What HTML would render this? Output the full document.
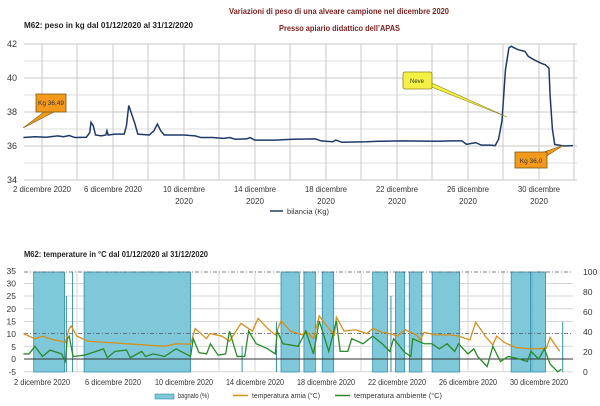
<!DOCTYPE html>
<html><head><meta charset="utf-8"><style>
body{margin:0;background:#fff;}
svg{display:block;font-family:"Liberation Sans",sans-serif;}
</style></head><body>
<svg width="600" height="406" viewBox="0 0 600 406" xmlns="http://www.w3.org/2000/svg">
<rect width="600" height="406" fill="#fff"/>
<text x="229" y="14" textLength="220" lengthAdjust="spacingAndGlyphs" font-size="8" font-weight="bold" fill="#7a1f1f">Variazioni di peso di una alveare campione nel dicembre 2020</text>
<text x="279" y="31" textLength="121" lengthAdjust="spacingAndGlyphs" font-size="8" font-weight="bold" fill="#7a1f1f">Presso apiario didattico dell’APAS</text>
<text x="24" y="28" textLength="169" lengthAdjust="spacingAndGlyphs" font-size="8" font-weight="bold" fill="#222">M62: peso in kg dal 01/12/2020 al 31/12/2020</text>
<g stroke="#dcdcdc" stroke-width="1">
<line x1="24" x2="577" y1="61" y2="61"/><line x1="24" x2="577" y1="95" y2="95"/><line x1="24" x2="577" y1="129" y2="129"/><line x1="24" x2="577" y1="163" y2="163"/>
</g>
<g stroke="#c8c8c8" stroke-width="1">
<line x1="24" x2="577" y1="44" y2="44"/><line x1="24" x2="577" y1="78" y2="78"/><line x1="24" x2="577" y1="112" y2="112"/><line x1="24" x2="577" y1="146" y2="146"/><line x1="24" x2="577" y1="180" y2="180"/>
<line x1="42" x2="42" y1="44" y2="180"/><line x1="77" x2="77" y1="44" y2="180"/><line x1="113" x2="113" y1="44" y2="180"/><line x1="148" x2="148" y1="44" y2="180"/><line x1="184" x2="184" y1="44" y2="180"/><line x1="219" x2="219" y1="44" y2="180"/><line x1="255" x2="255" y1="44" y2="180"/><line x1="290" x2="290" y1="44" y2="180"/><line x1="326" x2="326" y1="44" y2="180"/><line x1="361" x2="361" y1="44" y2="180"/><line x1="397" x2="397" y1="44" y2="180"/><line x1="432" x2="432" y1="44" y2="180"/><line x1="468" x2="468" y1="44" y2="180"/><line x1="503" x2="503" y1="44" y2="180"/><line x1="539" x2="539" y1="44" y2="180"/><line x1="574" x2="574" y1="44" y2="180"/>
</g>
<g font-size="9" fill="#333" text-anchor="end">
<text x="17" y="47">42</text><text x="17" y="81">40</text><text x="17" y="115">38</text><text x="17" y="149">36</text><text x="17" y="183">34</text>
</g>
<g font-size="8" fill="#333" text-anchor="middle">
<text x="42" y="192" textLength="58" lengthAdjust="spacingAndGlyphs">2 dicembre 2020</text><text x="113" y="192" textLength="58" lengthAdjust="spacingAndGlyphs">6 dicembre 2020</text>
<text x="184" y="192" textLength="42" lengthAdjust="spacingAndGlyphs">10 dicembre</text><text x="184" y="204">2020</text>
<text x="255" y="192" textLength="42" lengthAdjust="spacingAndGlyphs">14 dicembre</text><text x="255" y="204">2020</text>
<text x="326" y="192" textLength="42" lengthAdjust="spacingAndGlyphs">18 dicembre</text><text x="326" y="204">2020</text>
<text x="397" y="192" textLength="42" lengthAdjust="spacingAndGlyphs">22 dicembre</text><text x="397" y="204">2020</text>
<text x="468" y="192" textLength="42" lengthAdjust="spacingAndGlyphs">26 dicembre</text><text x="468" y="204">2020</text>
<text x="539" y="192" textLength="42" lengthAdjust="spacingAndGlyphs">30 dicembre</text><text x="539" y="204">2020</text>
</g>
<g transform="translate(0.5,146) scale(1.145,-16.9)">
<polyline vector-effect="non-scaling-stroke" fill="none" stroke="#1f3a68" stroke-width="1.5" points="20,0.5 30,0.55 40,0.52 50,0.6 55,0.55 60,0.62 65,0.5 75,0.52 78,0.8 79,1.4 81,1.2 83,0.65 88,0.6 92,0.65 93,0.9 94,0.65 100,0.7 108,0.7 110,1.2 112,2.4 114,2.0 117,1.4 120,0.7 130,0.65 134,0.9 137,1.3 140,0.9 143,0.65 160,0.65 170,0.6 175,0.5 185,0.5 195,0.45 200,0.5 205,0.4 215,0.42 218,0.5 222,0.35 240,0.35 255,0.4 275,0.42 280,0.3 290,0.25 293,0.35 298,0.22 320,0.25 330,0.28 350,0.3 380,0.28 395,0.3 403,0.3 407,0.1 415,0.2 420,0.05 428,0.05 432,0.02 435,0.4 438,1.5 441,4.5 444,5.8 446,5.9 452,5.7 458,5.6 461,5.3 466,5.1 472,4.9 476,4.8 479,4.6 480,3 482,1 484,0.1 492,0 500,0.02"/>
</g>
<polygon points="23,128 44,112 54,112" fill="#f39a1d" stroke="#7a5a10" stroke-width="0.6"/>
<rect x="36" y="94" width="30" height="18" fill="#f39a1d" stroke="#7a5a10" stroke-width="0.8"/>
<text x="51" y="105" text-anchor="middle" font-size="6.5" fill="#333">Kg 36,49</text>
<polygon points="507,117 425,80 429,86" fill="#f5f046" stroke="#8a8520" stroke-width="0.6"/>
<rect x="403" y="72" width="29" height="17" rx="2" fill="#f5f046" stroke="#8a8520" stroke-width="0.8"/>
<text x="417" y="83" text-anchor="middle" font-size="6" fill="#333">Neve</text>
<polygon points="564,145 538,154 542,159" fill="#f39a1d" stroke="#7a5a10" stroke-width="0.6"/>
<rect x="515" y="152" width="32" height="16" fill="#f39a1d" stroke="#7a5a10" stroke-width="0.8"/>
<text x="531" y="163" text-anchor="middle" font-size="6.5" fill="#333">Kg 36,0</text>
<line x1="270" x2="283" y1="211" y2="211" stroke="#1f3a68" stroke-width="1.5"/>
<text x="287" y="214" textLength="42" lengthAdjust="spacingAndGlyphs" font-size="7" fill="#333">bilancia (Kg)</text>

<text x="24" y="257" textLength="184" lengthAdjust="spacingAndGlyphs" font-size="8" font-weight="bold" fill="#222">M62: temperature in °C dal 01/12/2020 al 31/12/2020</text>
<g stroke="#d6d6d6" stroke-width="1">
<line x1="24" x2="573" y1="283.5" y2="283.5"/><line x1="24" x2="573" y1="296" y2="296"/><line x1="24" x2="573" y1="308.8" y2="308.8"/><line x1="24" x2="573" y1="321.5" y2="321.5"/><line x1="24" x2="573" y1="346.3" y2="346.3"/><line x1="24" x2="573" y1="371.7" y2="371.7"/>
<line x1="42" x2="42" y1="271" y2="372"/><line x1="77" x2="77" y1="271" y2="372"/><line x1="113" x2="113" y1="271" y2="372"/><line x1="148" x2="148" y1="271" y2="372"/><line x1="184" x2="184" y1="271" y2="372"/><line x1="219" x2="219" y1="271" y2="372"/><line x1="255" x2="255" y1="271" y2="372"/><line x1="290" x2="290" y1="271" y2="372"/><line x1="326" x2="326" y1="271" y2="372"/><line x1="361" x2="361" y1="271" y2="372"/><line x1="397" x2="397" y1="271" y2="372"/><line x1="432" x2="432" y1="271" y2="372"/><line x1="468" x2="468" y1="271" y2="372"/><line x1="503" x2="503" y1="271" y2="372"/><line x1="539" x2="539" y1="271" y2="372"/>
</g>
<g transform="translate(0.5,0) scale(1.145,1)">
<g fill="#7ec8d9" stroke="#2f8ea8" stroke-width="0.8">
<rect vector-effect="non-scaling-stroke" x="29" y="272" width="27" height="100"/><rect vector-effect="non-scaling-stroke" x="73" y="272" width="93" height="100"/>
<rect vector-effect="non-scaling-stroke" x="245" y="272" width="16" height="100"/><rect vector-effect="non-scaling-stroke" x="265" y="272" width="10" height="100"/><rect vector-effect="non-scaling-stroke" x="281" y="272" width="10" height="100"/>
<rect vector-effect="non-scaling-stroke" x="325" y="272" width="13" height="100"/><rect vector-effect="non-scaling-stroke" x="345" y="272" width="8" height="100"/><rect vector-effect="non-scaling-stroke" x="357" y="272" width="11" height="100"/><rect vector-effect="non-scaling-stroke" x="377" y="272" width="24" height="100"/>
<rect vector-effect="non-scaling-stroke" x="446" y="272" width="17" height="100"/><rect vector-effect="non-scaling-stroke" x="464" y="272" width="12" height="100"/>
</g>
<g stroke="#2f8ea8" stroke-width="1">
<line vector-effect="non-scaling-stroke" x1="57.5" x2="57.5" y1="296" y2="372"/><line vector-effect="non-scaling-stroke" x1="63" x2="63" y1="272" y2="372"/><line vector-effect="non-scaling-stroke" x1="241" x2="241" y1="322" y2="372"/><line vector-effect="non-scaling-stroke" x1="211" x2="211" y1="346" y2="372"/><line vector-effect="non-scaling-stroke" x1="341" x2="341" y1="296" y2="372"/><line vector-effect="non-scaling-stroke" x1="491" x2="491" y1="322" y2="372"/>
</g>
</g>
<line x1="24" x2="573" y1="272" y2="272" stroke="#556" stroke-width="0.8" stroke-dasharray="4,2,1,2"/>
<line x1="24" x2="573" y1="333.6" y2="333.6" stroke="#556" stroke-width="0.8" stroke-dasharray="4,2,1,2"/>
<line x1="24" x2="573" y1="359" y2="359" stroke="#333" stroke-width="1"/>
<g transform="translate(0.5,359) scale(0.38167,-2.54)" fill="none">
<polyline vector-effect="non-scaling-stroke" stroke="#d4901a" stroke-width="1.3" points="60,10 90,8 110,9 140,7.5 160,7 170,6.5 180,12 185,13 200,9 230,7 280,6.5 330,6 380,5.5 430,5 460,6 498,5.8 510,12 540,8 548,10 580,9 600,7 630,14 660,11 675,16 700,12 720,9.5 735,15 760,11 790,9.5 800,11 820,8 835,17 860,12 875,9.5 880,16.5 900,11 930,11.5 960,10 975,12 1000,10.5 1020,10 1040,9 1060,11.5 1090,9.5 1100,7.5 1110,10.5 1140,9.5 1180,9.5 1200,9 1230,7.5 1245,14.5 1270,9 1290,5.5 1300,9 1320,6.5 1350,4.5 1390,4 1430,4.2 1440,8.5 1465,3"/>
<polyline vector-effect="non-scaling-stroke" stroke="#2a8a2a" stroke-width="1.3" points="60,2 75,2 90,5 110,1 130,3.5 160,2 170,-1 175,8 180,9 190,1 220,1.5 270,4 280,0.5 300,3 330,3.5 340,0.5 370,3 380,1 400,2 430,1 460,4 498,1 505,8 520,2.5 540,2 550,6 570,1.5 590,2 600,11 620,1 640,1 650,11 670,6 700,4 720,2 725,11 740,6 780,5 800,11 820,2 835,15 860,3 880,15 890,3 910,3 920,8 950,6 975,9 1000,6 1020,3 1030,8 1060,2.5 1075,1 1080,8 1110,6 1130,6 1150,4 1170,6 1190,3 1200,6 1225,2 1240,4 1250,1 1275,-3 1290,5 1310,-1 1330,1 1360,0 1380,-1 1390,3 1410,0 1425,4 1440,-2 1460,-5 1470,-4"/>
</g>
<g font-size="8.5" fill="#333" text-anchor="end">
<text x="16" y="274">35</text><text x="16" y="286.5">30</text><text x="16" y="299">25</text><text x="16" y="312">20</text><text x="16" y="324.5">15</text><text x="16" y="337">10</text><text x="16" y="350">5</text><text x="16" y="362">0</text><text x="16" y="375">-5</text>
</g>
<g font-size="8.5" fill="#333">
<text x="583" y="275">100</text><text x="583" y="295">80</text><text x="583" y="315">60</text><text x="583" y="335">40</text><text x="583" y="355">20</text><text x="583" y="375">0</text>
</g>
<g font-size="8" fill="#333" text-anchor="middle">
<text x="42" y="385" textLength="56" lengthAdjust="spacingAndGlyphs">2 dicembre 2020</text>
<text x="113" y="385" textLength="56" lengthAdjust="spacingAndGlyphs">6 dicembre 2020</text>
<text x="184" y="385" textLength="58" lengthAdjust="spacingAndGlyphs">10 dicembre 2020</text>
<text x="255" y="385" textLength="58" lengthAdjust="spacingAndGlyphs">14 dicembre 2020</text>
<text x="326" y="385" textLength="58" lengthAdjust="spacingAndGlyphs">18 dicembre 2020</text>
<text x="397" y="385" textLength="58" lengthAdjust="spacingAndGlyphs">22 dicembre 2020</text>
<text x="468" y="385" textLength="58" lengthAdjust="spacingAndGlyphs">26 dicembre 2020</text>
<text x="539" y="385" textLength="58" lengthAdjust="spacingAndGlyphs">30 dicembre 2020</text>
</g>
<rect x="155" y="394" width="19" height="5" fill="#7ec8d9" stroke="#2f8ea8" stroke-width="0.6"/>
<text x="178" y="398" textLength="31" lengthAdjust="spacingAndGlyphs" font-size="7" fill="#333">bagnato (%)</text>
<line x1="233" x2="248" y1="395.5" y2="395.5" stroke="#d4901a" stroke-width="1.5"/>
<text x="252" y="398" textLength="68" lengthAdjust="spacingAndGlyphs" font-size="7" fill="#333">temperatura arnia (°C)</text>
<line x1="335" x2="350" y1="395.5" y2="395.5" stroke="#2a8a2a" stroke-width="1.5"/>
<text x="354" y="398" textLength="88" lengthAdjust="spacingAndGlyphs" font-size="7" fill="#333">temperatura ambiente (°C)</text>
</svg>
</body></html>
